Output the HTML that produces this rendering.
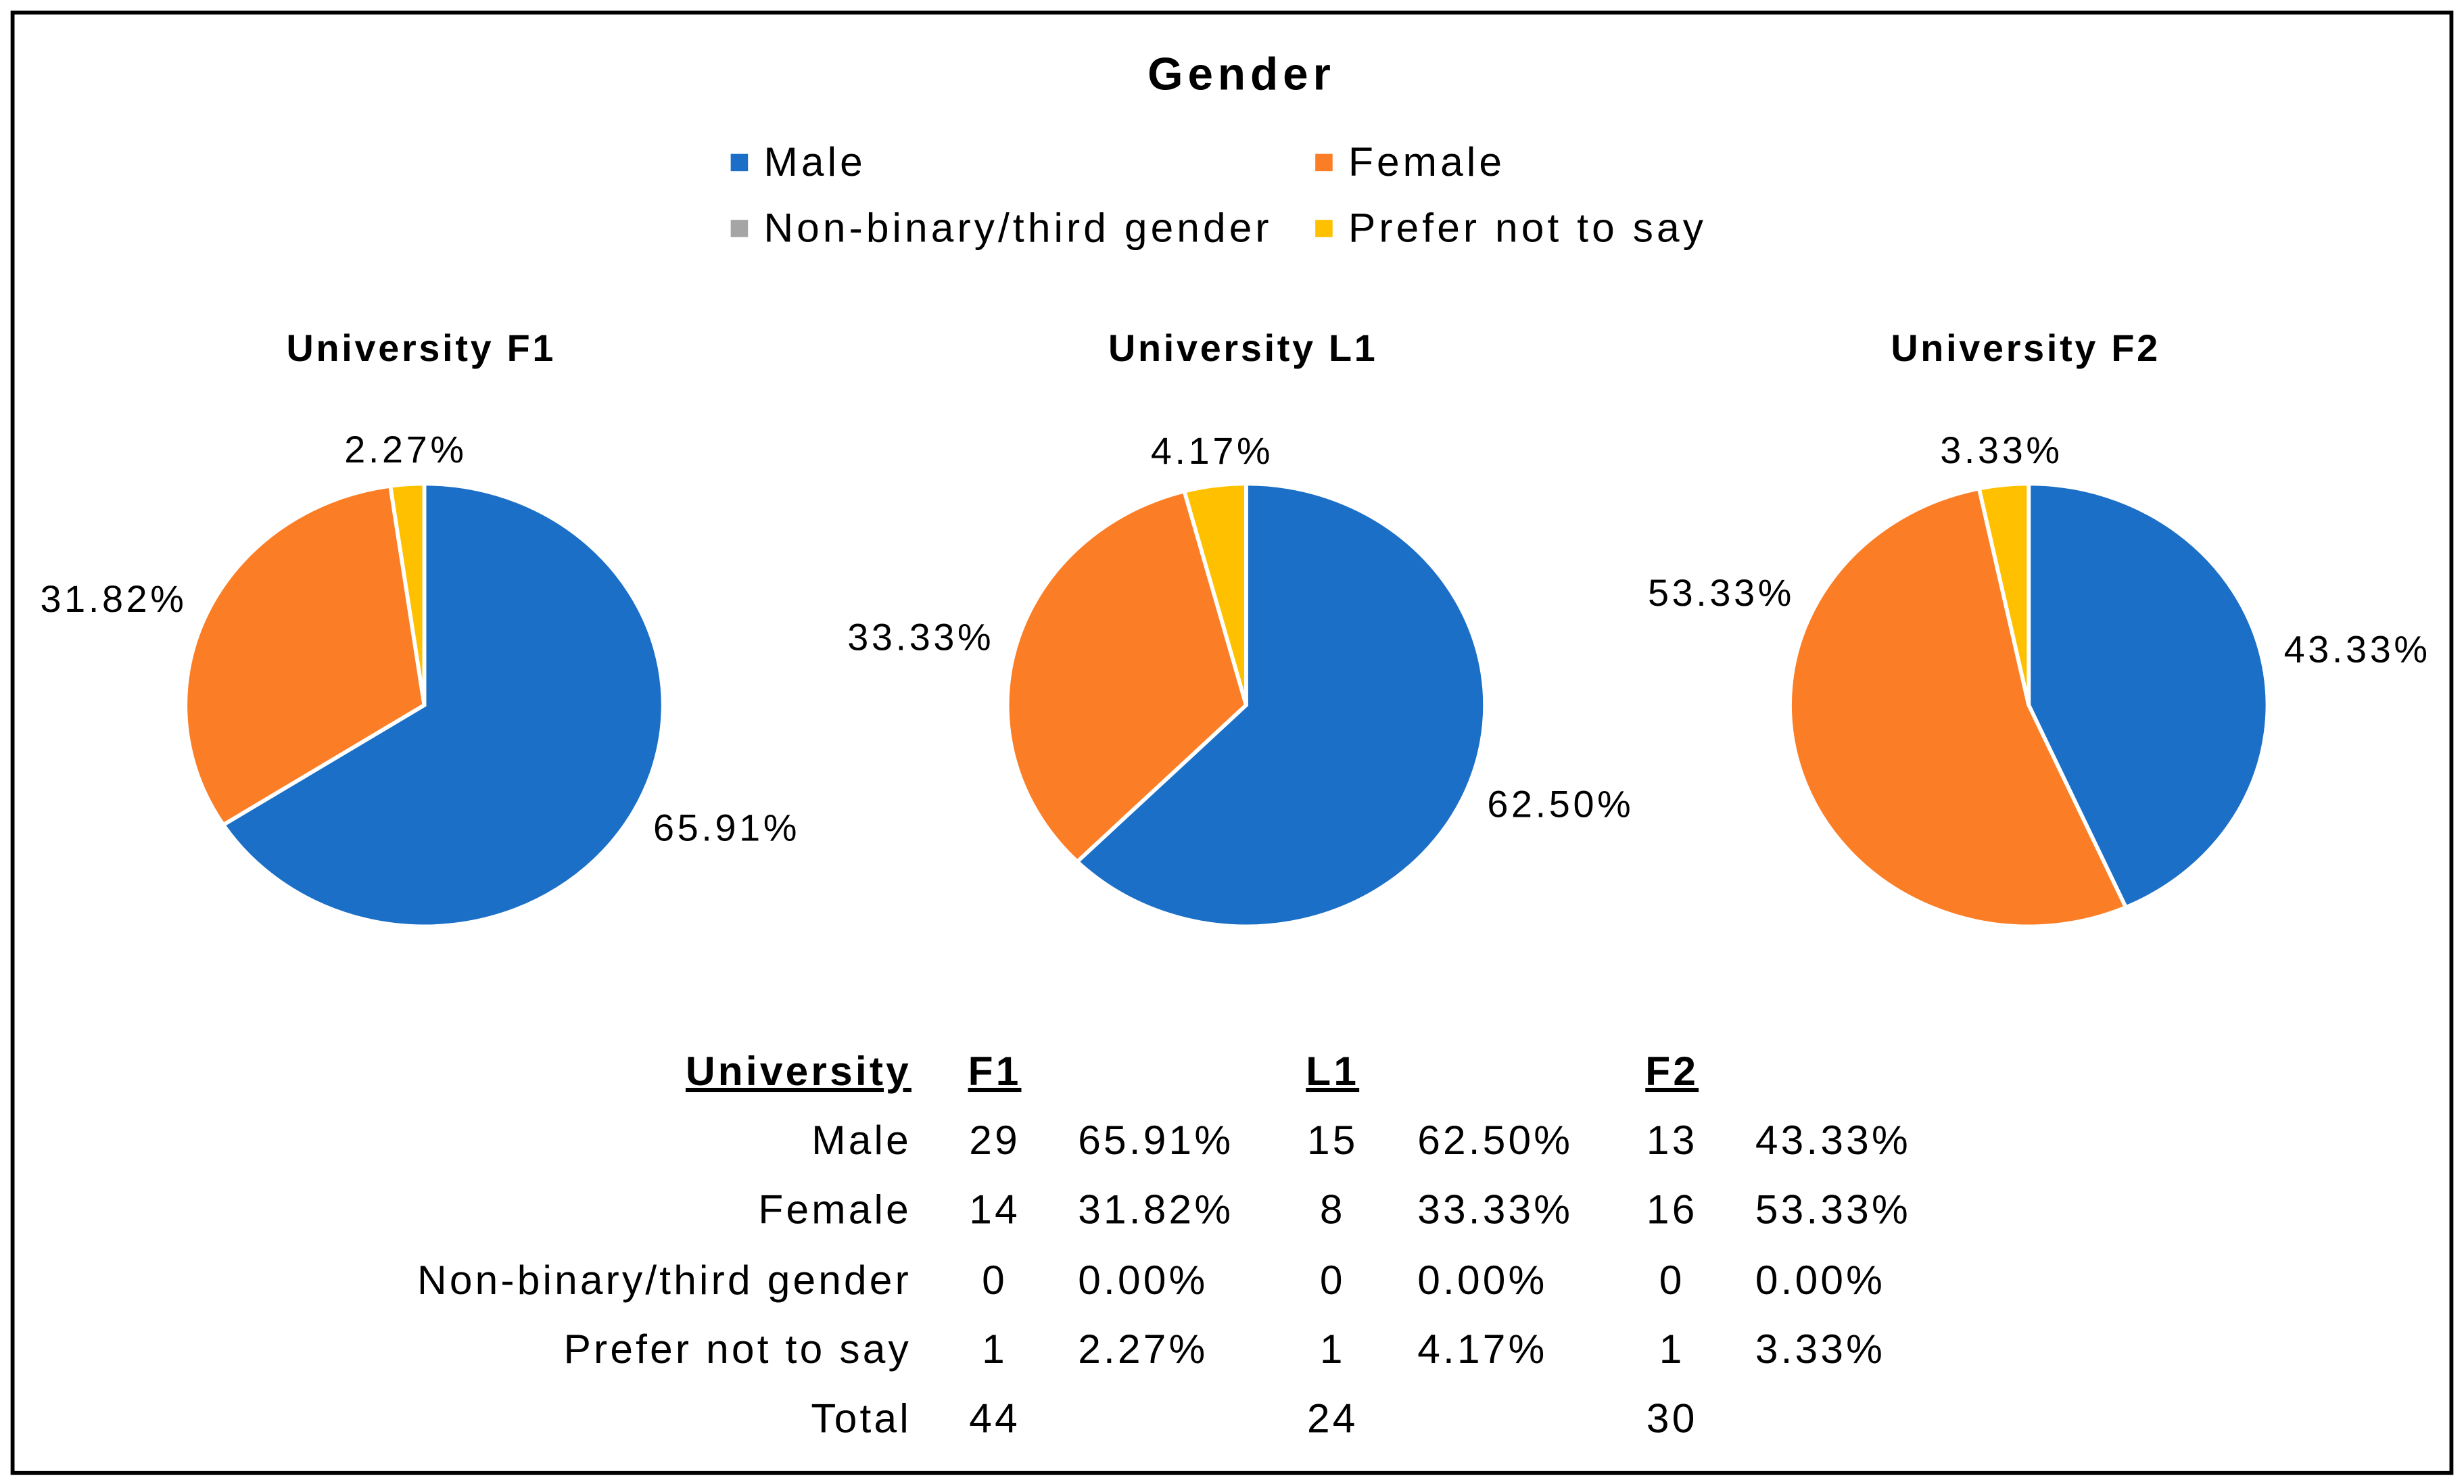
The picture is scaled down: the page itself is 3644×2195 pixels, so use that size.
<!DOCTYPE html>
<html><head><meta charset="utf-8"><style>
html,body{margin:0;padding:0;background:#fff}
svg{display:block}
text{font-family:"Liberation Sans",Arial,sans-serif;fill:#000}
</style></head><body>
<svg id="chart" width="3644" height="2195" viewBox="0 0 1568 945" preserveAspectRatio="none" xmlns="http://www.w3.org/2000/svg">
<rect x="8" y="8" width="1552" height="930" fill="#fff" stroke="#000" stroke-width="2.5"/>
<text x="790" y="57" font-size="29" font-weight="bold" text-anchor="middle" letter-spacing="3">Gender</text>
<g letter-spacing="2.2">
<g><rect x="465" y="98" width="11" height="11" fill="#1B6FC6"/><text x="486" y="112" font-size="26">Male</text></g>
<g><rect x="837" y="98" width="11" height="11" fill="#FB7E26"/><text x="858" y="112" font-size="26">Female</text></g>
<g><rect x="465" y="140" width="11" height="11" fill="#A5A5A5"/><text x="486" y="154" font-size="26">Non-binary/third gender</text></g>
<g><rect x="837" y="140" width="11" height="11" fill="#FFC000"/><text x="858" y="154" font-size="26">Prefer not to say</text></g>
</g>
<g id="pies"></g>
<g font-size="26" letter-spacing="1.8">
<text x="580" y="691" text-anchor="end" font-weight="bold" text-decoration="underline">University</text>
<text x="633" y="691" text-anchor="middle" font-weight="bold" text-decoration="underline">F1</text>
<text x="848" y="691" text-anchor="middle" font-weight="bold" text-decoration="underline">L1</text>
<text x="1064" y="691" text-anchor="middle" font-weight="bold" text-decoration="underline">F2</text>
<g id="rows"></g>
</g>
</svg>
<script>
const universities = ["University F1","University L1","University F2"];
const categories = ["Male","Female","Non-binary/third gender","Prefer not to say"];
const countsF1 = [29,14,0,1];
const countsL1 = [15,8,0,1];
const countsF2 = [13,16,0,1];
const colors = ["#1B6FC6","#FB7E26","#A5A5A5","#FFC000"];
const allCounts = [countsF1,countsL1,countsF2];
// where along each slice's arc the label anchors (0.5 = middle)
const labelAlong = [[0.5,0.5,0.5,0.5],[0.5,0.5,0.5,0.5],[0.5,0.73,0.5,0.5]];
const NS = "http://www.w3.org/2000/svg";
const centersX = [270,793,1291];
const cy = 449, R = 152, RY = 141;
const pies = document.getElementById("pies");
function mk(tag, attrs){const e=document.createElementNS(NS,tag);for(const k in attrs)e.setAttribute(k,attrs[k]);return e;}
allCounts.forEach((counts,u)=>{
  const total = counts.reduce((a,b)=>a+b,0);
  const cx = centersX[u];
  const g = mk("g",{});
  
  
  const t = mk("text",{x:cx-2,y:230,"font-size":24,"font-weight":"bold","text-anchor":"middle","letter-spacing":"1.6"});
  t.textContent = universities[u];
  
  
  g.appendChild(t);
  let cum = 0;
  counts.forEach((c,i)=>{
    const frac = c/total;
    if(frac<=0){return;}
    const a0 = cum*2*Math.PI, a1=(cum+frac)*2*Math.PI;
    const x0=cx+R*Math.sin(a0), y0=cy-RY*Math.cos(a0);
    const x1=cx+R*Math.sin(a1), y1=cy-RY*Math.cos(a1);
    const large = frac>0.5?1:0;
    const p = mk("path",{d:`M${cx},${cy} L${x0},${y0} A${R},${RY} 0 ${large} 1 ${x1},${y1} Z`,fill:colors[i],stroke:"#fff","stroke-width":2.5});
    
    
    g.appendChild(p);
    const am = (cum+frac*labelAlong[u][i])*2*Math.PI;
    const dx=Math.sin(am), dy=-Math.cos(am);
    const lx=cx+(R+14)*dx, ly=cy+(RY+14)*dy+8 + (dy<-0.9?-8:(dy>0.3?4:-3));
    const anchor = dx>0.3?"start":(dx<-0.3?"end":"middle");
    const lt = mk("text",{x:lx,y:ly,"font-size":24,"text-anchor":anchor,"letter-spacing":"2"});
    lt.textContent = (frac*100).toFixed(2)+"%";
    
    
    g.appendChild(lt);
    cum += frac;
  });
  pies.appendChild(g);
});
const rows = document.getElementById("rows");
const rowY = [735,779,824,868];
const countX = [633,848,1064], pctX=[686,902,1117];
categories.forEach((cat,i)=>{
  const l = mk("text",{x:580,y:rowY[i],"text-anchor":"end"});
  l.textContent=cat;
  
  
  rows.appendChild(l);
  allCounts.forEach((counts,u)=>{
    const total=counts.reduce((a,b)=>a+b,0);
    const c = mk("text",{x:countX[u],y:rowY[i],"text-anchor":"middle"});
    c.textContent=counts[i];
    
    
    rows.appendChild(c);
    const p = mk("text",{x:pctX[u],y:rowY[i]});
    p.textContent=(counts[i]/total*100).toFixed(2)+"%";
    
    
    rows.appendChild(p);
  });
});
const tl = mk("text",{x:580,y:912,"text-anchor":"end"});
tl.textContent="Total";


rows.appendChild(tl);
allCounts.forEach((counts,u)=>{
  const c = mk("text",{x:countX[u],y:912,"text-anchor":"middle"});
  c.textContent=counts.reduce((a,b)=>a+b,0);
  
  
  rows.appendChild(c);
});
</script>
</body></html>
